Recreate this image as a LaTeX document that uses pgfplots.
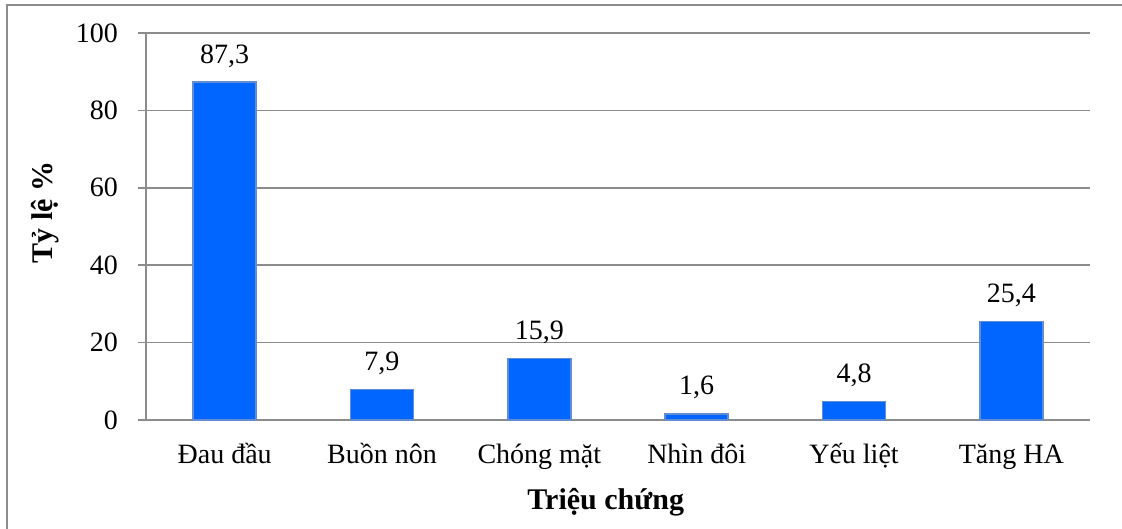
\documentclass[border=0pt]{standalone}
\usepackage{fontspec}
\setmainfont{Liberation Serif}
\usepackage{pgfplots}
\pgfplotsset{compat=1.18}
\definecolor{barblue}{RGB}{0,102,255}
\definecolor{baredge}{RGB}{100,140,210}
\definecolor{gridgray}{RGB}{140,140,140}
\begin{document}
\begin{tikzpicture}
\useasboundingbox (-146bp,-109bp) rectangle (976bp,420bp);
\draw[gridgray, line width=1.5bp] (-139bp,-200bp) -- (-139bp,415bp) -- (1100bp,415bp);
\begin{axis}[
  at={(0,0)}, anchor=south west,
  scale only axis,
  width=944bp, height=387bp,
  xmin=-0.5, xmax=5.5, ymin=0, ymax=100,
  axis lines*=left,
  axis line style={gridgray, line width=1.5bp},
  ytick={0,20,40,60,80,100},
  ymajorgrids,
  major grid style={gridgray, line width=1.5bp},
  ytick style={gridgray, line width=1.5bp},
  tick align=outside,
  major tick length=8bp,
  xtick={0,1,2,3,4,5},
  xticklabels={Đau đầu, Buồn nôn, Chóng mặt, Nhìn đôi, Yếu liệt, Tăng HA},
  x tick style={draw=none},
  minor xtick={-0.5,0.5,1.5,2.5,3.5,4.5,5.5},
  minor x tick style={gridgray, line width=1.5bp},
  minor tick length=8bp,
  /pgf/number format/assume math mode=true,
  tick label style={font=\fontsize{28bp}{32bp}\selectfont},
  xticklabel style={anchor=base, yshift=-35bp, inner sep=0pt},
  yticklabel style={anchor=east, inner sep=0pt, xshift=-20bp},
  xlabel={Triệu chứng},
  ylabel={Tỷ lệ \%},
  label style={font=\fontsize{30bp}{34bp}\selectfont\bfseries},
  xlabel style={at={(rel axis cs:0.487,0)}, anchor=base, yshift=-89bp, inner sep=0pt},
  ylabel style={at={(rel axis cs:0,0.537)}, anchor=center, yshift=101bp, inner sep=0pt},
  ybar, bar width=63bp,
  nodes near coords={\pgfmathprintnumber[use comma,fixed,fixed zerofill,precision=1,assume math mode=true]{\pgfplotspointmeta}},
  every node near coord/.style={anchor=base, yshift=19bp, inner sep=0pt, font=\fontsize{28bp}{32bp}\selectfont, black},
  clip=false,
]
\addplot[fill=barblue, draw=baredge, line width=1.5bp] coordinates {
  (0,87.3) (1,7.9) (2,15.9) (3,1.6) (4,4.8) (5,25.4)
};
\end{axis}
\end{tikzpicture}
\end{document}
